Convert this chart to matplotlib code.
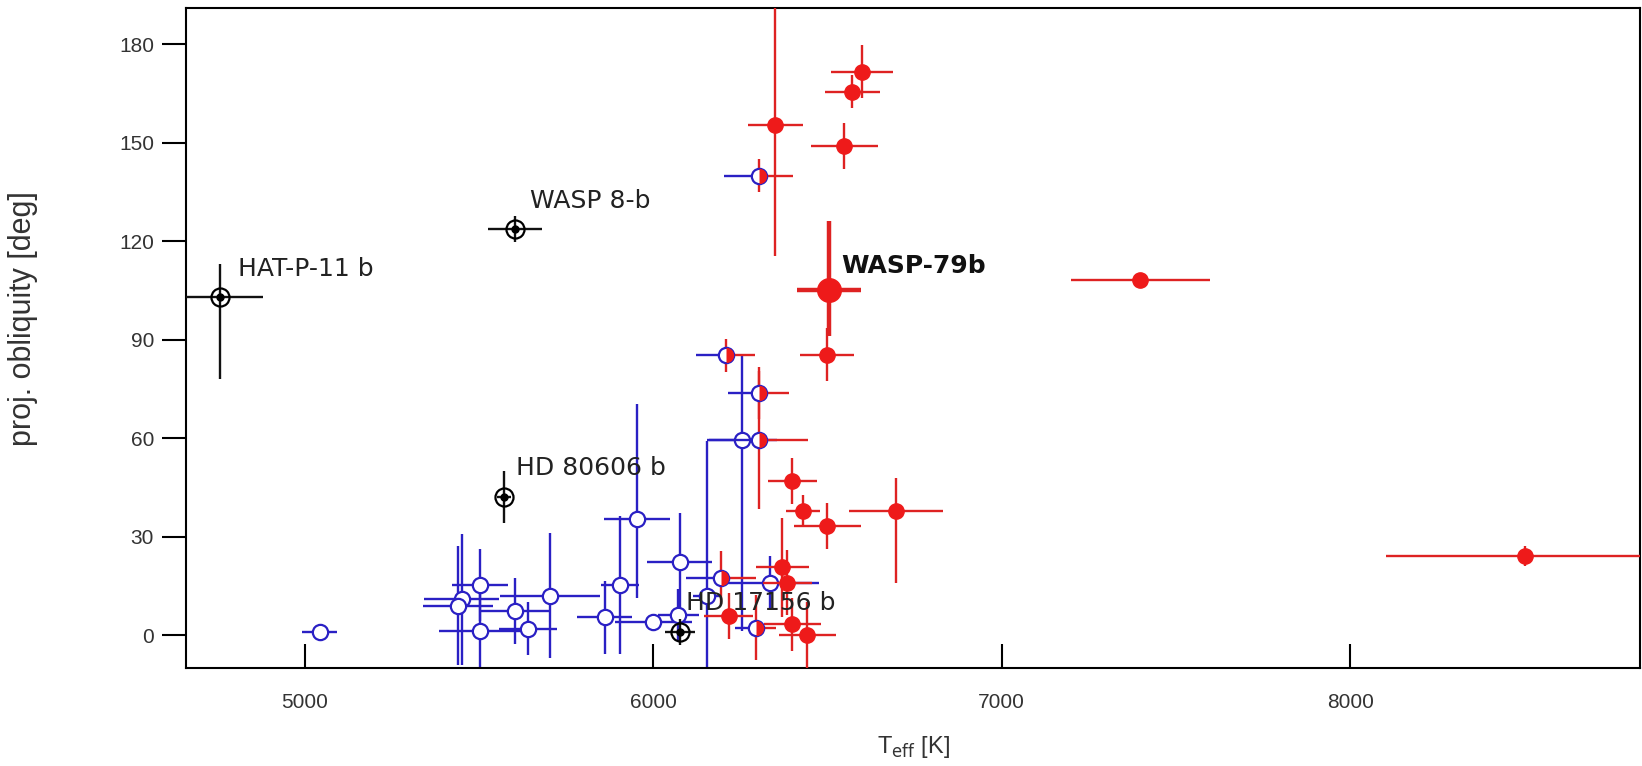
import matplotlib
matplotlib.use("Agg")
import matplotlib.pyplot as plt
from matplotlib.path import Path

plt.rcParams['font.family'] = ['Liberation Sans', 'DejaVu Sans']

# aligned / cool-star systems (open blue circles)
blue_teff = [5044, 5451, 5440, 5504, 5504, 5604, 5642, 5705, 5861, 5906, 5954, 6001, 6076, 6073, 6155, 6337, 6256]
blue_teff_err = [50, 108, 100, 80, 117, 103, 83, 144, 80, 55, 96, 110, 93, 60, 40, 140, 100]
blue_lam = [0.8, 10.9, 9, 15.2, 1.2, 7.4, 2.0, 12, 5.4, 15.2, 35.3, 3.9, 22.2, 6, 12, 16, 59.4]
blue_lam_lo = [2, 20, 18, 11, 14, 10, 8, 19, 11, 21, 24, 2, 15, 8, 22, 8, 58]
blue_lam_hi = [2, 20, 18, 11, 14, 10, 8, 19, 11, 21, 35, 2, 15, 8, 47, 8, 26]

# hot-star systems (filled red circles)
red_teff = [6600, 6572, 6351, 6549, 6500, 6400, 6430, 6500, 6696, 7398, 8503, 6371, 6385, 6399, 6442, 6217]
red_teff_err = [89, 79, 79, 97, 77, 70, 48, 96, 135, 200, 400, 77, 70, 82, 82, 70]
red_lam = [171.6, 165.5, 155.4, 149.1, 85.4, 46.9, 37.8, 33.2, 37.8, 108, 24.2, 20.6, 16, 3.3, 0, 5.9]
red_lam_lo = [8, 5, 40, 7, 8, 7, 5, 7, 22, 2, 3, 15, 10, 8, 10, 7]
red_lam_hi = [8, 5, 45, 7, 8, 7, 5, 7, 10, 2, 3, 15, 10, 8, 10, 7]

# systems near the boundary (half blue / half red)
half_teff = [6303, 6208, 6303, 6303, 6195, 6294]
half_teff_err = [99, 84, 88, 143, 100, 60]
half_lam = [139.9, 85.2, 73.8, 59.4, 17.5, 2.3]
half_lam_err = [5, 5, 8, 21, 8, 10]

# labelled special systems
special_names = ["HAT-P-11 b", "WASP 8-b", "HD 80606 b", "HD 17156 b"]
special_teff = [4757, 5603, 5571, 6076]
special_teff_err = [123, 78, 20, 43]
special_lam = [103, 123.6, 42, 1]
special_lam_lo = [25, 4, 8, 4]
special_lam_hi = [10, 4, 8, 4]
special_label_x = [4809, 5646, 5608, 6095]
special_label_y = [111.5, 132.2, 51, 9.7]

# WASP-79b
w79_teff, w79_teff_err = 6505, 91
w79_lam, w79_lo, w79_hi = 105.2, 14, 21

blue = '#2a20c4'
red = '#ee1a1a'
red_bar = '#de2222'

fig = plt.figure(figsize=(16.42, 7.66), dpi=100)
ax = fig.add_axes([0.1133, 0.128, 0.8855, 0.8616])

# blue open circles
ax.errorbar(blue_teff, blue_lam, xerr=blue_teff_err, yerr=[blue_lam_lo, blue_lam_hi],
            fmt='o', ms=11, mfc='white', mec=blue, mew=1.6, ecolor=blue, elinewidth=1.7,
            capsize=0, zorder=2)

# red filled circles
ax.errorbar(red_teff, red_lam, xerr=red_teff_err, yerr=[red_lam_lo, red_lam_hi],
            fmt='o', ms=11, mfc=red, mec=red, mew=1, ecolor=red_bar, elinewidth=1.7,
            capsize=0, zorder=3)

# half points: blue left bar, red right bar
zeros = [0] * len(half_teff)
ax.errorbar(half_teff, half_lam, xerr=[half_teff_err, zeros], fmt='none',
            ecolor=blue, elinewidth=1.7, capsize=0, zorder=3)
ax.errorbar(half_teff, half_lam, xerr=[zeros, half_teff_err], yerr=half_lam_err, fmt='none',
            ecolor=red_bar, elinewidth=1.7, capsize=0, zorder=3)
ax.plot(half_teff, half_lam, 'o', ms=11, mfc='white', mec=blue, mew=1.6, zorder=4)
ax.plot(half_teff, half_lam, ls='none', marker=Path.wedge(-90, 90), ms=11,
        mfc=red, mec='none', zorder=5)

# special black systems
ax.errorbar(special_teff, special_lam, xerr=special_teff_err,
            yerr=[special_lam_lo, special_lam_hi], fmt='o', ms=13, mfc='none',
            mec='black', mew=1.6, ecolor='#111111', elinewidth=1.7, capsize=0, zorder=6)
ax.plot(special_teff, special_lam, 'o', ms=5, color='black', zorder=7)
for name, lx, ly in zip(special_names, special_label_x, special_label_y):
    ax.text(lx, ly, name, fontsize=18, family='DejaVu Sans', color='#222222',
            ha='left', va='center', zorder=8)

# WASP-79b
ax.errorbar([w79_teff], [w79_lam], xerr=w79_teff_err, yerr=[[w79_lo], [w79_hi]],
            fmt='o', ms=17, mfc=red, mec=red, ecolor=red_bar, elinewidth=3.2,
            capsize=0, zorder=6)
ax.text(6540, 112.3, "WASP-79b", fontsize=18, family='DejaVu Sans', fontweight='bold',
        color='#111111', ha='left', va='center', zorder=8)

ax.set_xlim(4660, 8832)
ax.set_ylim(-10, 191)
ax.set_xticks([5000, 6000, 7000, 8000])
ax.set_yticks([0, 30, 60, 90, 120, 150, 180])
ax.tick_params(axis='x', direction='in', length=17, width=1.5, pad=18,
               labelsize=15, labelcolor='#333333')
ax.tick_params(axis='y', direction='out', length=17, width=1.5, pad=6,
               labelsize=15, labelcolor='#333333')
for sp in ax.spines.values():
    sp.set_linewidth(1.5)

ax.set_xlabel(r"T$_{\rm eff}$ [K]", fontsize=17, color='#333333')
ax.set_ylabel("proj. obliquity [deg]", fontsize=22, color='#333333')
ax.xaxis.set_label_coords(0.5, -0.1)
ax.yaxis.set_label_coords(-0.102, 0.529)

fig.savefig("out.png", dpi=100)
